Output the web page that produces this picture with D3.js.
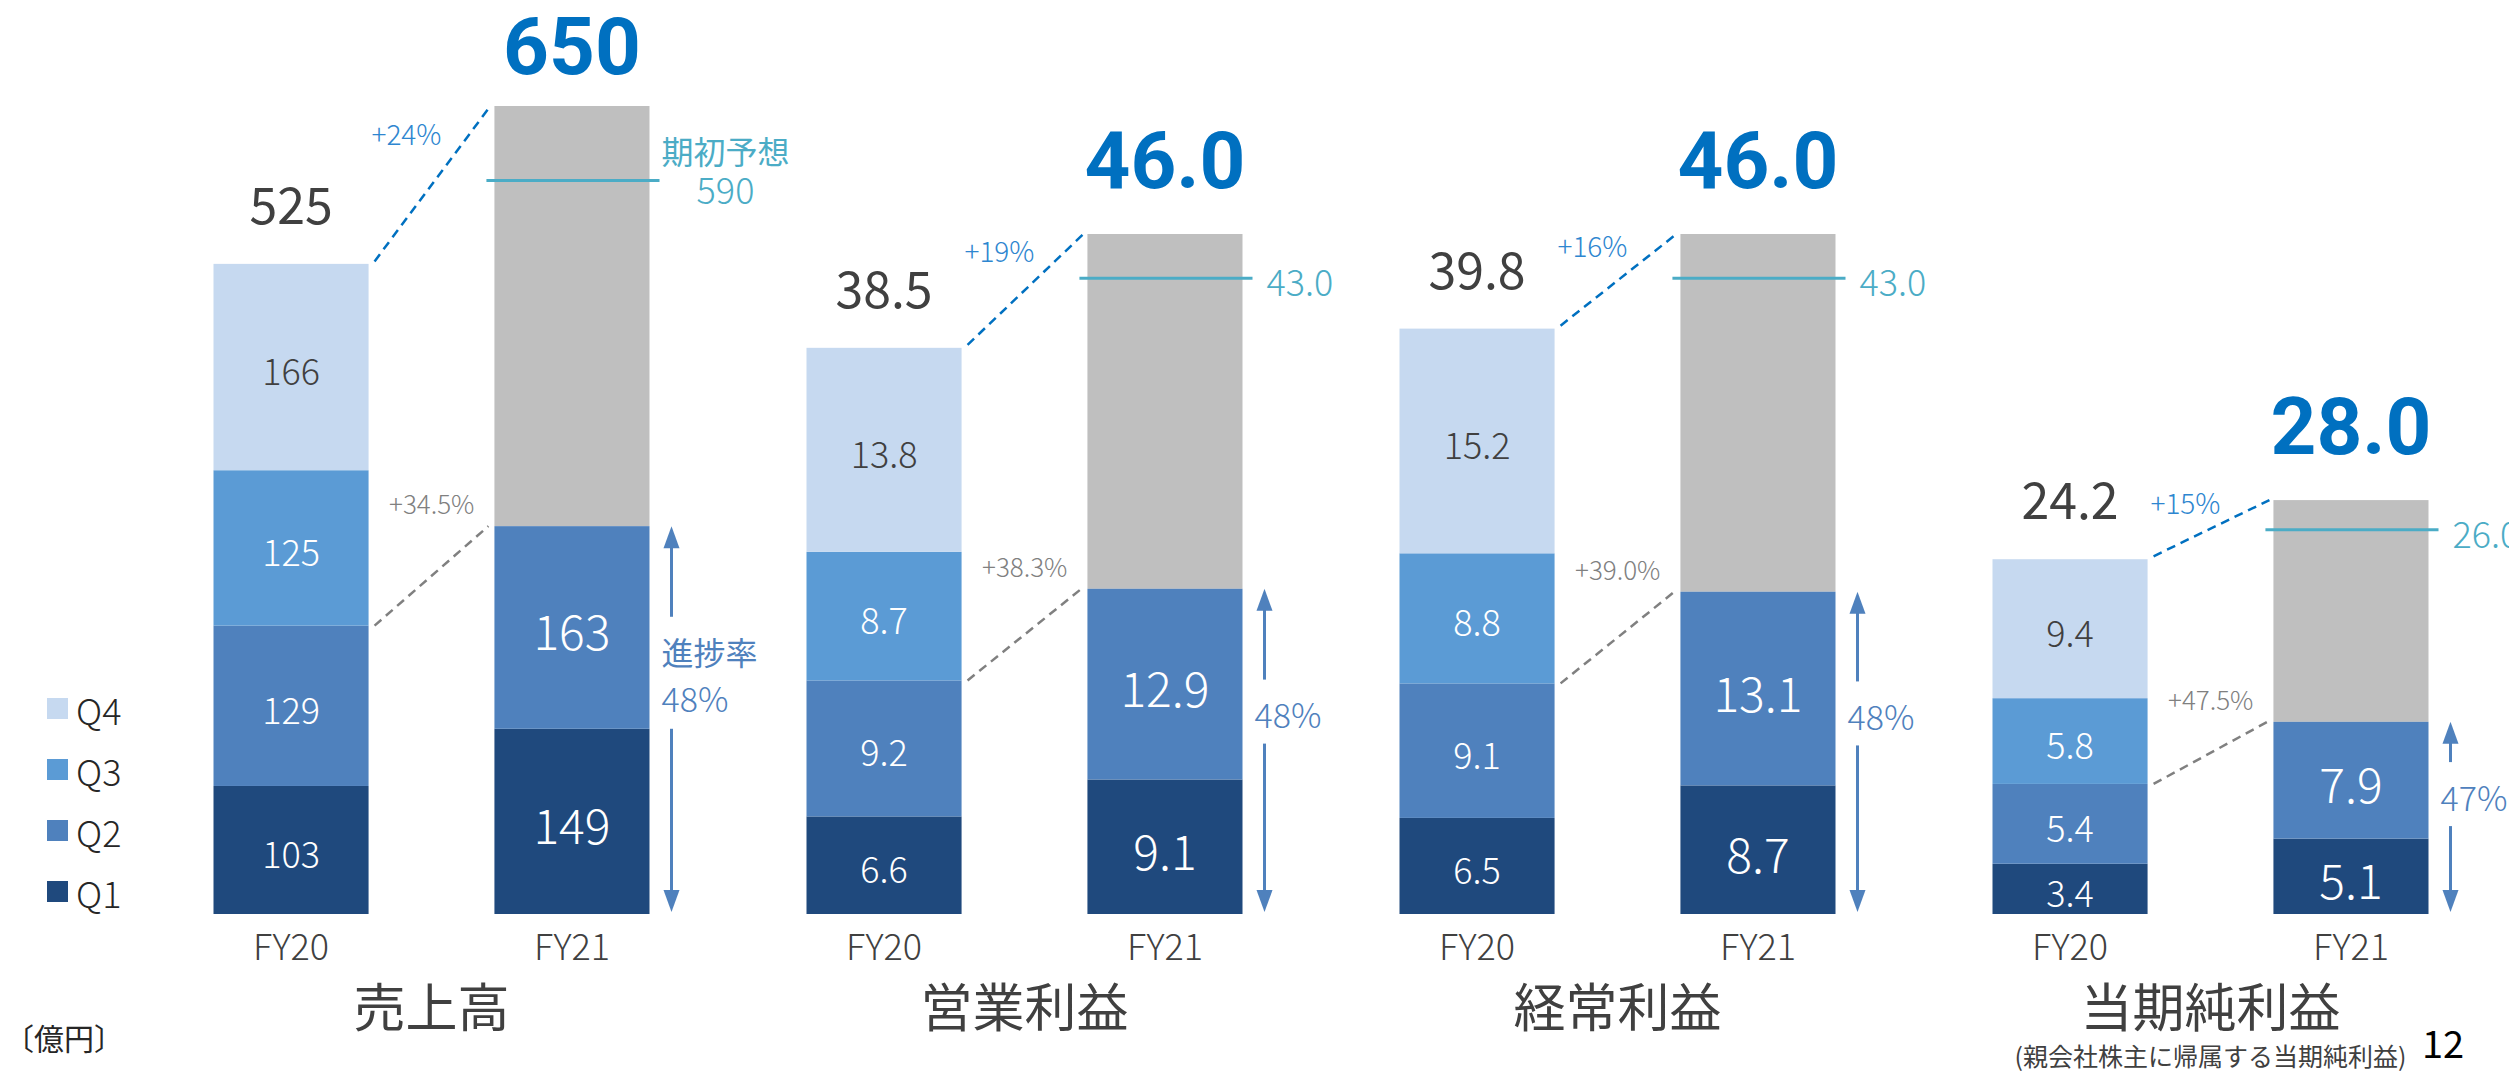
<!DOCTYPE html>
<html>
<head>
<meta charset="utf-8">
<script src="https://cdn.jsdelivr.net/npm/d3@7"></script>
<style>
  html, body { margin: 0; padding: 0; background: #ffffff; }
  svg { display: block; font-family: "Noto Sans CJK JP", "Noto Sans", sans-serif; }
</style>
</head>
<body>
<script>
// ---------- data ----------
const panels = ["売上高", "営業利益", "経常利益", "当期純利益"];
const years = ["FY20", "FY21"];
const quarters = ["Q1", "Q2", "Q3", "Q4"];
const fy20Quarters = [
  [103, 129, 125, 166],
  [6.6, 9.2, 8.7, 13.8],
  [6.5, 9.1, 8.8, 15.2],
  [3.4, 5.4, 5.8, 9.4]
];
const fy20Totals = [525, 38.5, 39.8, 24.2];
const fy21Quarters = [
  [149, 163],
  [9.1, 12.9],
  [8.7, 13.1],
  [5.1, 7.9]
];
const fy21Forecasts = [650, 46.0, 46.0, 28.0];
const initialForecasts = [590, 43.0, 43.0, 26.0];
const forecastCaptions = ["期初予想", "", "", ""];
const fullYearGrowth = ["+24%", "+19%", "+16%", "+15%"];
const halfYearGrowth = ["+34.5%", "+38.3%", "+39.0%", "+47.5%"];
const progressCaptions = ["進捗率", "", "", ""];
const progressRates = ["48%", "48%", "48%", "47%"];
const panelNotes = ["", "", "", "(親会社株主に帰属する当期純利益)"];
const unitLabel = "〔億円〕";
const pageNumber = "12";

// ---------- style ----------
const W = 2509, H = 1074;
const colQ = d3.scaleOrdinal().domain(quarters).range(["#1f497d", "#4f81bd", "#5b9bd5", "#c6d9f0"]);
const colRemain = "#bfbfbf";
const colDark = "#404040";
const colTotal = "#0070c0";
const colGrowth = "#2e86d0";
const colGrey = "#808080";
const colTeal = "#4bacc6";
const colArrow = "#4f81bd";
const fmt = [d3.format("d"), d3.format(".1f"), d3.format(".1f"), d3.format(".1f")];

const svg = d3.select("body").append("svg").attr("width", W).attr("height", H);

// ---------- scales ----------
const baseY = 914;
const xPanel = d3.scaleBand().domain(panels).range([135, 2507]);
const xYear = d3.scaleBand().domain(years).range([-218, 218]).paddingInner(0.448).paddingOuter(0);
const ySales = d3.scaleLinear().domain([0, fy21Forecasts[0]]).range([baseY, 106]);
const yProfit = d3.scaleLinear().domain([0, d3.max(fy21Forecasts.slice(1))]).range([baseY, 234]);
const yScales = panels.map((p, i) => i === 0 ? ySales : yProfit);
const bw = xYear.bandwidth();

panels.forEach((panel, i) => {
  const y = yScales[i];
  const cx = xPanel(panel) + xPanel.bandwidth() / 2;
  const g = svg.append("g").attr("transform", `translate(${cx},0)`);
  const x20 = xYear("FY20"), x21 = xYear("FY21");

  // FY20 stacked bar
  const cum20 = Array.from(d3.cumsum(fy20Quarters[i]));
  const seg20 = fy20Quarters[i].map((v, k) => ({ q: quarters[k], v, y0: k ? cum20[k - 1] : 0, y1: cum20[k] }));
  g.selectAll(".s20").data(seg20).join("rect")
    .attr("x", x20).attr("width", bw)
    .attr("y", d => y(d.y1)).attr("height", d => y(d.y0) - y(d.y1))
    .attr("fill", d => colQ(d.q));
  g.selectAll(".l20").data(seg20).join("text")
    .attr("x", x20 + bw / 2).attr("y", d => (y(d.y0) + y(d.y1)) / 2 + 2)
    .attr("text-anchor", "middle").attr("dominant-baseline", "central")
    .attr("font-size", 36).attr("font-weight", 300)
    .attr("fill", d => d.q === "Q4" ? colDark : "#ffffff")
    .text(d => fmt[i](d.v));

  // FY21 stacked bar (Q1, Q2, remaining forecast)
  const cum21 = Array.from(d3.cumsum(fy21Quarters[i]));
  const h1_21 = cum21[cum21.length - 1];
  const seg21 = fy21Quarters[i].map((v, k) => ({ q: quarters[k], v, y0: k ? cum21[k - 1] : 0, y1: cum21[k] }));
  g.append("rect")
    .attr("x", x21).attr("width", bw)
    .attr("y", y(fy21Forecasts[i])).attr("height", y(h1_21) - y(fy21Forecasts[i]))
    .attr("fill", colRemain);
  g.selectAll(".s21").data(seg21).join("rect")
    .attr("x", x21).attr("width", bw)
    .attr("y", d => y(d.y1)).attr("height", d => y(d.y0) - y(d.y1))
    .attr("fill", d => colQ(d.q));
  g.selectAll(".l21").data(seg21).join("text")
    .attr("x", x21 + bw / 2).attr("y", d => (y(d.y0) + y(d.y1)) / 2 + 2)
    .attr("text-anchor", "middle").attr("dominant-baseline", "central")
    .attr("font-size", 48).attr("font-weight", 300)
    .attr("fill", "#ffffff")
    .text(d => fmt[i](d.v));

  // totals
  const top20 = y(fy20Totals[i]);
  const top21 = y(fy21Forecasts[i]);
  g.append("text")
    .attr("x", x20 + bw / 2).attr("y", top20 - 37)
    .attr("text-anchor", "middle").attr("font-size", 50).attr("fill", colDark)
    .text(fmt[i](fy20Totals[i]));
  g.append("text")
    .attr("x", x21 + bw / 2).attr("y", Math.max(top21 - 46, 74))
    .attr("text-anchor", "middle").attr("font-family", "Roboto, sans-serif")
    .attr("font-size", 80).attr("font-weight", 700).attr("fill", colTotal)
    .text(fmt[i](fy21Forecasts[i]));

  // full-year growth dashed line
  const lx0 = x20 + bw + 6, lx1 = x21 - 4;
  g.append("line")
    .attr("x1", lx0).attr("y1", top20).attr("x2", lx1).attr("y2", top21)
    .attr("stroke", colTotal).attr("stroke-width", 2.5).attr("stroke-dasharray", "9,6");
  const gy = top21 + 0.25 * (top20 - top21);
  const gx = lx0 + (top20 - gy) / (top20 - top21) * (lx1 - lx0);
  g.append("text")
    .attr("x", gx - 20).attr("y", gy)
    .attr("text-anchor", "end").attr("font-size", 28).attr("font-weight", 300).attr("fill", colGrowth)
    .text(fullYearGrowth[i]);

  // half-year growth dashed line
  const h120 = y(cum20[1]), h121 = y(h1_21);
  g.append("line")
    .attr("x1", lx0).attr("y1", h120).attr("x2", x21 - 6).attr("y2", h121)
    .attr("stroke", colGrey).attr("stroke-width", 2.5).attr("stroke-dasharray", "9,6");
  g.append("text")
    .attr("x", x21 - 20).attr("y", h121 - 12)
    .attr("text-anchor", "end").attr("font-size", 26).attr("font-weight", 300).attr("fill", colGrey)
    .text(halfYearGrowth[i]);

  // initial forecast line
  const fy = y(initialForecasts[i]);
  g.append("line")
    .attr("x1", x21 - 8).attr("x2", x21 + bw + 10).attr("y1", fy).attr("y2", fy)
    .attr("stroke", colTeal).attr("stroke-width", 3);
  if (forecastCaptions[i]) {
    g.append("text")
      .attr("x", x21 + bw + 76).attr("y", fy - 17)
      .attr("text-anchor", "middle").attr("font-size", 32).attr("fill", colTeal)
      .text(forecastCaptions[i]);
    g.append("text")
      .attr("x", x21 + bw + 76).attr("y", fy + 23)
      .attr("text-anchor", "middle").attr("font-size", 36).attr("font-weight", 300).attr("fill", colTeal)
      .text(fmt[i](initialForecasts[i]));
  } else {
    g.append("text")
      .attr("x", x21 + bw + 24).attr("y", fy + 2)
      .attr("dominant-baseline", "central").attr("font-size", 36).attr("font-weight", 300).attr("fill", colTeal)
      .text(fmt[i](initialForecasts[i]));
  }

  // progress arrow
  const ax = x21 + bw + 22;
  const aTop = h121, aBot = y(0) - 2;
  const len = aBot - aTop;
  const gc = (aTop + aBot) / 2 - 0.12 * len;
  const gh = progressCaptions[i] ? 56 : 32;
  g.append("line").attr("x1", ax).attr("x2", ax).attr("y1", aTop + 18).attr("y2", gc - gh)
    .attr("stroke", colArrow).attr("stroke-width", 3);
  g.append("line").attr("x1", ax).attr("x2", ax).attr("y1", gc + gh).attr("y2", aBot - 18)
    .attr("stroke", colArrow).attr("stroke-width", 3);
  g.append("path").attr("d", `M${ax},${aTop} L${ax - 8},${aTop + 22} L${ax + 8},${aTop + 22} Z`).attr("fill", colArrow);
  g.append("path").attr("d", `M${ax},${aBot} L${ax - 8},${aBot - 22} L${ax + 8},${aBot - 22} Z`).attr("fill", colArrow);
  if (progressCaptions[i]) {
    g.append("text").attr("x", ax - 10).attr("y", gc - 22).attr("dominant-baseline", "central")
      .attr("font-size", 32).attr("fill", colArrow).text(progressCaptions[i]);
    g.append("text").attr("x", ax - 10).attr("y", gc + 25).attr("dominant-baseline", "central")
      .attr("font-size", 34).attr("font-weight", 300).attr("fill", colArrow).text(progressRates[i]);
  } else {
    g.append("text").attr("x", ax - 10).attr("y", gc + 2).attr("dominant-baseline", "central")
      .attr("font-size", 34).attr("font-weight", 300).attr("fill", colArrow).text(progressRates[i]);
  }

  // year labels
  g.selectAll(".yl").data(years).join("text")
    .attr("x", d => xYear(d) + bw / 2).attr("y", 960)
    .attr("text-anchor", "middle").attr("font-size", 36).attr("font-weight", 300).attr("fill", colDark)
    .text(d => d);

  // panel title
  g.append("text").attr("x", 0).attr("y", 1027)
    .attr("text-anchor", "middle").attr("font-size", 52).attr("fill", colDark)
    .text(panel);
  if (panelNotes[i]) {
    g.append("text").attr("x", 0).attr("y", 1066)
      .attr("text-anchor", "middle").attr("font-size", 25).attr("fill", colDark)
      .text(panelNotes[i]);
  }
});

// legend
const legendOrder = quarters.slice().reverse();
const lg = svg.append("g").attr("transform", "translate(47,698)");
lg.selectAll("rect").data(legendOrder).join("rect")
  .attr("x", 0).attr("y", (d, k) => k * 61).attr("width", 21).attr("height", 21)
  .attr("fill", d => colQ(d));
lg.selectAll("text").data(legendOrder).join("text")
  .attr("x", 29).attr("y", (d, k) => k * 61 + 11).attr("dominant-baseline", "central")
  .attr("font-size", 36).attr("font-weight", 300).attr("fill", "#262626").text(d => d);

// unit & page number
svg.append("text").attr("x", 4).attr("y", 1050).attr("font-size", 30).attr("fill", "#262626").text(unitLabel);
svg.append("text").attr("x", 2422).attr("y", 1058).attr("font-size", 38).attr("fill", "#000000").text(pageNumber);
</script>
</body>
</html>
